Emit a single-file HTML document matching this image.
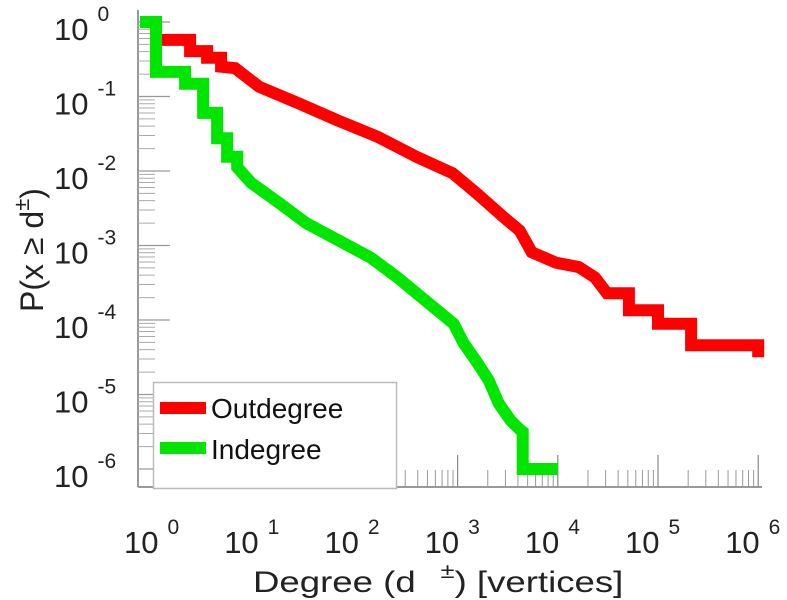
<!DOCTYPE html>
<html><head><meta charset="utf-8"><style>
body{margin:0;background:#fff;}
svg{display:block;font-family:"Liberation Sans",sans-serif;}
</style></head><body>
<svg id="chart" width="787" height="600">
<g id="ticks"></g>
<g id="series"></g>
<g id="labels"></g>
<g transform="translate(253,592) scale(1.22,1)">
<text x="0" y="0" font-size="30" fill="#222">Degree (d <tspan font-size="21" dy="-14" dx="12">±</tspan><tspan dy="14">) [vertices]</tspan></text>
</g>
<text transform="translate(43,250) rotate(-90)" font-size="32" text-anchor="middle" fill="#222">P(x ≥ d<tspan font-size="22" dy="-14">±</tspan><tspan dy="14">)</tspan></text>
<g>
<rect x="153.5" y="382.5" width="243" height="106" fill="#fff" stroke="#bbb" stroke-width="1.5"/>
<line x1="160" y1="408" x2="206" y2="408" stroke="#ff0000" stroke-width="12"/>
<text x="211" y="418" font-size="28" fill="#111">Outdegree</text>
<line x1="160" y1="448" x2="206" y2="448" stroke="#00e600" stroke-width="12"/>
<text x="211" y="459" font-size="28" fill="#111">Indegree</text>
</g>
</svg>
<script>
const xTickExps = [0,1,2,3,4,5,6];
const yTickExps = [0,-1,-2,-3,-4,-5,-6];
const outLogDeg = [0.03,0.33,0.33,0.50,0.50,0.64,0.64,0.78,1.02,1.41,1.80,2.20,2.59,2.95,3.19,3.46,3.62,3.74,3.98,4.21,4.37,4.49,4.71,4.71,5.0,5.0,5.33,5.33,6.0,6.0];
const outLogP   = [-0.24,-0.24,-0.39,-0.39,-0.48,-0.48,-0.60,-0.62,-0.87,-1.09,-1.32,-1.54,-1.81,-2.03,-2.30,-2.62,-2.80,-3.09,-3.23,-3.29,-3.43,-3.64,-3.64,-3.87,-3.87,-4.05,-4.05,-4.34,-4.34,-4.5];
const inLogDeg = [-0.17,-0.01,-0.01,0.28,0.28,0.46,0.46,0.60,0.60,0.70,0.70,0.80,0.80,0.94,1.22,1.49,1.81,2.13,2.40,2.68,2.96,3.06,3.20,3.31,3.41,3.53,3.63,3.65,3.65,4.0];
const inLogP   = [0,0,-0.67,-0.67,-0.83,-0.83,-1.22,-1.22,-1.56,-1.56,-1.81,-1.81,-1.95,-2.16,-2.43,-2.70,-2.93,-3.16,-3.43,-3.74,-4.05,-4.31,-4.58,-4.81,-5.12,-5.35,-5.48,-5.5,-6,-6];

const X0=157, XD=100.2, Y0=22, YD=74.5;
const xs = v => X0 + v*XD;
const ys = v => Y0 - v*YD;
const NS='http://www.w3.org/2000/svg';
function mk(tag, attrs, parent){const e=document.createElementNS(NS,tag);for(const k in attrs)e.setAttribute(k,attrs[k]);parent.appendChild(e);return e;}
const T=document.getElementById('ticks'), S=document.getElementById('series'), L=document.getElementById('labels');
let ax=mk('line',{x1:138,y1:10,x2:138,y2:487,stroke:'#999','stroke-width':2},T);


let bx=mk('line',{x1:138,y1:487,x2:762,y2:487,stroke:'#999','stroke-width':2},T);


yTickExps.forEach((e,i)=>{
  const y=ys(e);
  let t=mk('line',{x1:138,y1:y,x2:170,y2:y,stroke:'#999','stroke-width':1.2},T);
  
  
  if(e>-6){for(let m=2;m<=9;m++){const yy=ys(e-1+Math.log10(m));
    let mt=mk('line',{x1:138,y1:yy,x2:155,y2:yy,stroke:'#aaa','stroke-width':1},T);
    
    }}
  let lb=mk('text',{x:54,y:y+18,'font-size':31,fill:'#222'},L);
  
  
  lb.innerHTML='10<tspan font-size="21" dy="-19" dx="9">'+(e===0?'0':'-'+(-e))+'</tspan>';
});
xTickExps.forEach(e=>{
  const x=xs(e);
  let t=mk('line',{x1:x,y1:487,x2:x,y2:455,stroke:'#888','stroke-width':1.2},T);
  
  
  if(e<6){for(let m=2;m<=9;m++){const xx=xs(e+Math.log10(m));
    let mt=mk('line',{x1:xx,y1:487,x2:xx,y2:470,stroke:'#999','stroke-width':1},T);
    
    }}
  let lb=mk('text',{x:x-33,y:553,'font-size':31,fill:'#222'},L);
  
  
  lb.innerHTML='10<tspan font-size="21" dy="-19" dx="9">'+e+'</tspan>';
});
function line(xa,ya,color,name){
  const pts=xa.map((v,i)=>xs(v).toFixed(1)+','+ys(ya[i]).toFixed(1)).join(' ');
  let p=mk('polyline',{points:pts,fill:'none',stroke:color,'stroke-width':12,'stroke-linejoin':'miter','stroke-linecap':'butt'},S);
  
  
}
line(outLogDeg,outLogP,'#ff0000','outdegree-line');
line(inLogDeg,inLogP,'#00e600','indegree-line');
</script>
</body></html>
